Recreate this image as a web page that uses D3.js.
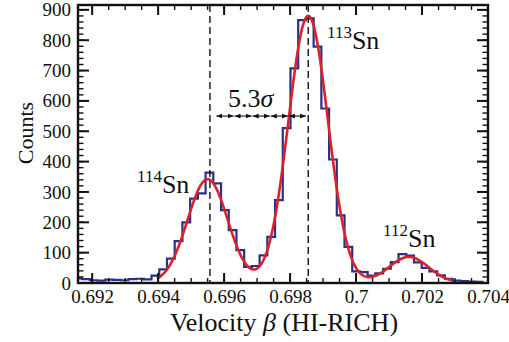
<!DOCTYPE html>
<html>
<head>
<meta charset="utf-8">
<script src="https://cdn.jsdelivr.net/npm/d3@7/dist/d3.min.js"></script>
<style>
  html, body { margin: 0; padding: 0; background: #fff; }
  svg { display: block; }
  svg text { font-family: "Liberation Serif", "Times New Roman", serif; fill: #111; }
</style>
</head>
<body>
<svg id="chart" width="509" height="342"></svg>
<script>
// Velocity histogram (HI-RICH), bins of equal width
const binEdgeStart = 0.69146;
const binWidth = 0.000234;
const counts = [
  15, 13, 9, 8, 11, 10, 9, 13, 14, 12, 24,
  45, 80, 138, 200, 278, 295, 364, 328, 240, 174, 108, 53,
  56, 91, 152, 273, 510, 707, 866, 872, 779, 575, 407, 223, 119, 38,
  36, 24, 32, 47, 69, 95, 90, 68, 50, 38, 25, 14, 8, 6, 5, 4
];

// Three-Gaussian fit (114Sn, 113Sn, 112Sn)
const fitCenters = [0.69550, 0.69855, 0.70160];
const fitHeights = [342, 880, 86];
const fitSigmas = [0.00061, 0.00060, 0.00060];
const fitRange = [0.69397, 0.70290];

// Peak markers and separation label
const peakLines = [0.69557, 0.69855];
const isotopes = [
  { mass: "114", x: 0.69336, y: 296 },
  { mass: "113", x: 0.69912, y: 770 },
  { mass: "112", x: 0.70082, y: 119 }
];
const separationLabel = "5.3";
const arrowSpan = [0.69575, 0.69850];
const arrowSegments = 5;
const arrowLevel = 550;

const xTicks = [0.692, 0.694, 0.696, 0.698, 0.700, 0.702, 0.704];
const xTickLabels = ["0.692", "0.694", "0.696", "0.698", "0.7", "0.702", "0.704"];
const yTicks = [0, 100, 200, 300, 400, 500, 600, 700, 800, 900];

const serif = "'Liberation Serif', 'Times New Roman', serif";
const svg = d3.select("#chart");
const pL = 78, pR = 488, pT = 5, pB = 283;

const x = d3.scaleLinear().domain([0.69157, 0.704]).range([pL, pR]);
const y = d3.scaleLinear().domain([0, 916]).range([pB, pT]);

const defs = svg.append("defs");
defs.append("clipPath").attr("id", "plotclip")
  .append("rect").attr("x", pL).attr("y", pT)
  .attr("width", pR - pL).attr("height", pB - pT);

const plot = svg.append("g").attr("clip-path", "url(#plotclip)");

// histogram outline as steps
const steps = [];
counts.forEach((c, i) => {
  const lo = binEdgeStart + i * binWidth;
  steps.push([lo, c], [lo + binWidth, c]);
});
plot.append("path")
  .datum(steps)
  .attr("fill", "none")
  .attr("stroke", "#2b2f86")
  .attr("stroke-width", 2.2)
  .attr("stroke-linejoin", "miter")
  .attr("d", d3.line().x(d => x(d[0])).y(d => y(d[1])));

// dashed peak positions
plot.selectAll("line.peak")
  .data(peakLines)
  .join("line")
  .attr("class", "peak")
  .attr("x1", d => x(d)).attr("x2", d => x(d))
  .attr("y1", pT).attr("y2", pB)
  .attr("stroke", "#111")
  .attr("stroke-width", 1.4)
  .attr("stroke-dasharray", "7,4");

// fit curve
const fitX = d3.range(fitRange[0], fitRange[1], 0.00002).concat([fitRange[1]]);
const fitVal = v => d3.sum(fitCenters, (m, k) =>
  fitHeights[k] * Math.exp(-0.5 * Math.pow((v - m) / fitSigmas[k], 2)));
plot.append("path")
  .datum(fitX)
  .attr("fill", "none")
  .attr("stroke", "#d8232a")
  .attr("stroke-width", 2.6)
  .attr("d", d3.line().x(d => x(d)).y(d => y(fitVal(d))));

// separation arrows
const segW = (arrowSpan[1] - arrowSpan[0]) / arrowSegments;
["start", "end"].forEach(kind => {
  defs.append("marker")
    .attr("id", "arrow-" + kind)
    .attr("viewBox", "0 0 10 10")
    .attr("refX", kind === "end" ? 10 : 0).attr("refY", 5)
    .attr("markerWidth", 6).attr("markerHeight", 6)
    .attr("markerUnits", "userSpaceOnUse")
    .attr("orient", "auto")
    .append("path")
    .attr("d", kind === "end" ? "M0,1 L10,5 L0,9 Z" : "M10,1 L0,5 L10,9 Z")
    .attr("fill", "#111");
});
svg.selectAll("line.sep")
  .data(d3.range(arrowSegments))
  .join("line")
  .attr("class", "sep")
  .attr("x1", i => x(arrowSpan[0] + i * segW) + 0.5)
  .attr("x2", i => x(arrowSpan[0] + (i + 1) * segW) - 0.5)
  .attr("y1", y(arrowLevel)).attr("y2", y(arrowLevel))
  .attr("stroke", "#111").attr("stroke-width", 1.1)
  .attr("marker-start", "url(#arrow-start)")
  .attr("marker-end", "url(#arrow-end)");

const sepText = svg.append("text")
  .attr("x", x(arrowSpan[0]) + 12).attr("y", y(arrowLevel) - 9)
  .style("font-family", serif).style("font-size", "26px");
sepText.append("tspan").text(separationLabel);
sepText.append("tspan").style("font-style", "italic").text("\u03C3");

// isotope labels
isotopes.forEach(d => {
  const t = svg.append("text").attr("x", x(d.x)).attr("y", y(d.y))
    .style("font-family", serif).style("font-size", "26px");
  t.append("tspan").style("font-size", "17px").attr("dy", -11).text(d.mass);
  t.append("tspan").attr("dy", 11).text("Sn");
});

// frame
svg.append("rect")
  .attr("x", pL).attr("y", pT)
  .attr("width", pR - pL).attr("height", pB - pT)
  .attr("fill", "none").attr("stroke", "#111").attr("stroke-width", 2.4);

// ticks on all four sides, pointing inward
const xMinor = d3.range(0.6920, 0.70401, 0.0005);
const yMinor = d3.range(0, 917, 20);
const tickG = svg.append("g").attr("stroke", "#111");
function xTickMarks(vals, len, w) {
  vals.forEach(v => {
    const px = x(v);
    tickG.append("line").attr("x1", px).attr("x2", px).attr("y1", pB).attr("y2", pB - len).attr("stroke-width", w);
    tickG.append("line").attr("x1", px).attr("x2", px).attr("y1", pT).attr("y2", pT + len).attr("stroke-width", w);
  });
}
function yTickMarks(vals, len, w) {
  vals.forEach(v => {
    const py = y(v);
    tickG.append("line").attr("x1", pL).attr("x2", pL + len).attr("y1", py).attr("y2", py).attr("stroke-width", w);
    tickG.append("line").attr("x1", pR).attr("x2", pR - len).attr("y1", py).attr("y2", py).attr("stroke-width", w);
  });
}
xTickMarks(xMinor, 5, 1.4);
xTickMarks(xTicks, 10, 2);
yTickMarks(yMinor, 5.5, 1.4);
yTickMarks(yTicks, 11, 2);

// tick labels
const xAxis = d3.axisBottom(x).tickValues(xTicks)
  .tickFormat((d, i) => xTickLabels[i]).tickSize(0).tickPadding(7);
const gx = svg.append("g").attr("transform", `translate(0,${pB})`).call(xAxis);
gx.select(".domain").remove();
gx.selectAll("text").style("font-size", "19px").style("font-family", serif).attr("fill", "#111");

const yAxis = d3.axisLeft(y).tickValues(yTicks).tickSize(0).tickPadding(7);
const gy = svg.append("g").attr("transform", `translate(${pL},0)`).call(yAxis);
gy.select(".domain").remove();
gy.selectAll("text").style("font-size", "19px").style("font-family", serif).attr("fill", "#111");

// axis titles
const xt = svg.append("text")
  .attr("x", 284).attr("y", 331)
  .attr("text-anchor", "middle")
  .style("font-family", serif).style("font-size", "26px");
xt.append("tspan").text("Velocity ");
xt.append("tspan").style("font-style", "italic").text("\u03B2");
xt.append("tspan").text(" (HI-RICH)");

svg.append("text")
  .attr("transform", `translate(33,${(pT + pB) / 2 - 11}) rotate(-90)`)
  .attr("text-anchor", "middle")
  .style("font-family", serif).style("font-size", "22px")
  .text("Counts");
</script>
</body>
</html>
